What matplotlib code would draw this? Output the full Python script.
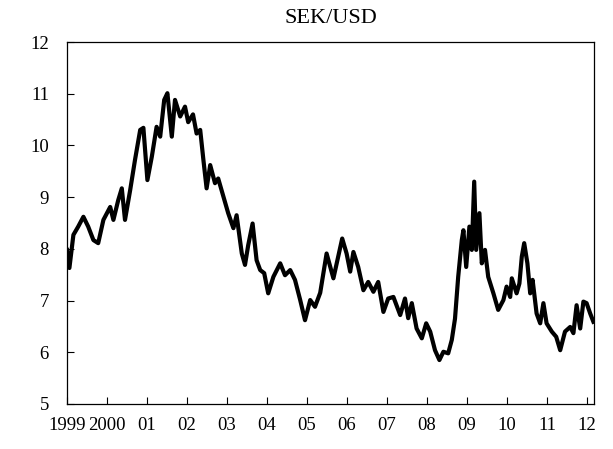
import matplotlib
matplotlib.use("Agg")
import matplotlib.pyplot as plt

# SEK per USD (decimal year, rate)
years = [1999.00, 1999.06, 1999.16, 1999.28, 1999.41, 1999.53, 1999.66, 1999.78,
         1999.91, 2000.08, 2000.16, 2000.28, 2000.37, 2000.45, 2000.58, 2000.70,
         2000.83, 2000.91, 2001.01, 2001.12, 2001.24, 2001.33, 2001.43, 2001.51,
         2001.62, 2001.70, 2001.83, 2001.95, 2002.03, 2002.15, 2002.24, 2002.33,
         2002.41, 2002.49, 2002.58, 2002.70, 2002.78, 2002.91, 2003.03, 2003.16,
         2003.24, 2003.37, 2003.45, 2003.53, 2003.64, 2003.74, 2003.83, 2003.93,
         2004.03, 2004.16, 2004.33, 2004.45, 2004.58, 2004.70, 2004.83, 2004.95,
         2005.08, 2005.20, 2005.33, 2005.49, 2005.66, 2005.78, 2005.88, 2005.99,
         2006.08, 2006.16, 2006.28, 2006.41, 2006.53, 2006.66, 2006.78, 2006.91,
         2007.03, 2007.16, 2007.33, 2007.45, 2007.53, 2007.62, 2007.74, 2007.87,
         2007.98, 2008.08, 2008.20, 2008.31, 2008.41, 2008.53, 2008.62, 2008.70,
         2008.78, 2008.87, 2008.91, 2008.98, 2009.06, 2009.12, 2009.18, 2009.23,
         2009.31, 2009.37, 2009.45, 2009.53, 2009.66, 2009.78, 2009.91, 2009.99,
         2010.08, 2010.12, 2010.24, 2010.31, 2010.37, 2010.43, 2010.51, 2010.58,
         2010.64, 2010.74, 2010.83, 2010.91, 2010.99, 2011.12, 2011.23, 2011.33,
         2011.45, 2011.58, 2011.66, 2011.74, 2011.83, 2011.91, 2011.99, 2012.08,
         2012.16]
sek_usd = [7.98, 7.63, 8.27, 8.43, 8.62, 8.43, 8.17, 8.11,
           8.56, 8.81, 8.56, 8.94, 9.17, 8.56, 9.14, 9.72,
           10.30, 10.34, 9.33, 9.78, 10.36, 10.17, 10.88, 11.01,
           10.17, 10.88, 10.56, 10.75, 10.45, 10.60, 10.23, 10.30,
           9.72, 9.17, 9.62, 9.27, 9.36, 9.01, 8.69, 8.40,
           8.65, 7.91, 7.69, 8.07, 8.49, 7.78, 7.59, 7.53,
           7.14, 7.46, 7.72, 7.49, 7.59, 7.40, 7.01, 6.62,
           7.01, 6.88, 7.15, 7.91, 7.43, 7.85, 8.20, 7.91,
           7.56, 7.94, 7.65, 7.20, 7.36, 7.17, 7.36, 6.78,
           7.04, 7.07, 6.72, 7.04, 6.66, 6.95, 6.46, 6.27,
           6.56, 6.40, 6.04, 5.85, 6.01, 5.98, 6.24, 6.65,
           7.46, 8.17, 8.36, 7.65, 8.43, 7.98, 9.30, 7.98,
           8.69, 7.72, 7.98, 7.46, 7.14, 6.82, 7.01, 7.27,
           7.07, 7.43, 7.14, 7.33, 7.85, 8.11, 7.72, 7.14,
           7.40, 6.75, 6.56, 6.95, 6.56, 6.40, 6.30, 6.04,
           6.40, 6.49, 6.37, 6.91, 6.46, 6.98, 6.95, 6.75,
           6.59]

tick_years = list(range(1999, 2013))
tick_labels = ["1999", "2000", "01", "02", "03", "04", "05", "06",
               "07", "08", "09", "10", "11", "12"]

plt.rcParams["font.family"] = ["Liberation Serif", "DejaVu Serif"]

fig = plt.figure(figsize=(6.13, 4.49), dpi=100)
ax = fig.add_axes([67 / 613, 1 - 404 / 449, (594 - 67) / 613, (404 - 42) / 449])

ax.plot(years, sek_usd, color="black", linewidth=3.0, solid_joinstyle="round")

ax.set_xlim(1999.0, 2012.175)
ax.set_ylim(5, 12)
ax.set_xticks(tick_years)
ax.set_xticklabels(tick_labels)
ax.set_yticks(range(5, 13))

ax.tick_params(axis="both", direction="in", length=5, width=0.8,
               labelsize=13.5, top=False, right=False)
ax.tick_params(axis="x", pad=9)
ax.tick_params(axis="y", pad=13)
for s in ax.spines.values():
    s.set_linewidth(0.9)

ax.set_title("SEK/USD", fontsize=16, pad=14)

fig.savefig("out.png", dpi=100)
